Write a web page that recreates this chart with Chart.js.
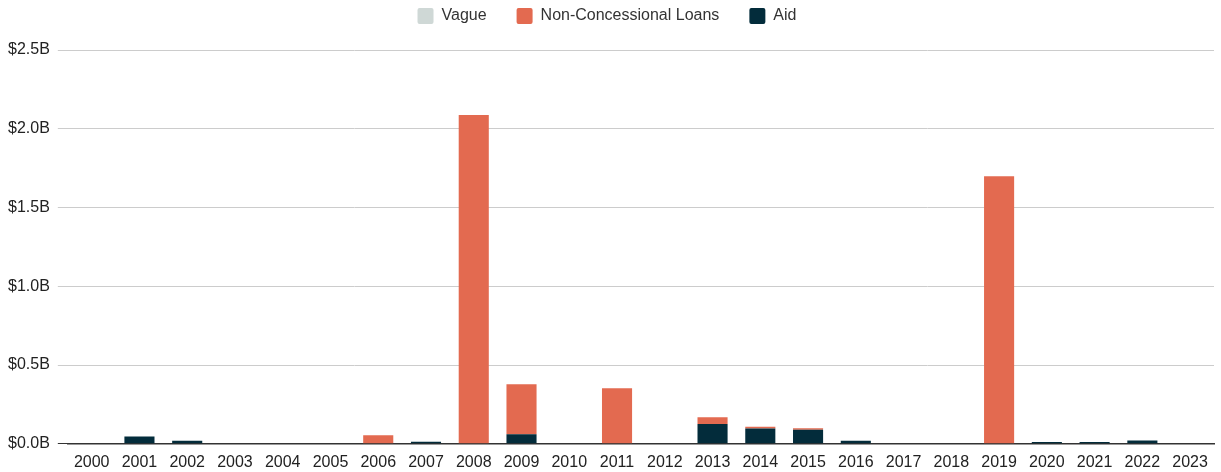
<!DOCTYPE html>
<html>
<head>
<meta charset="utf-8">
<script src="https://cdn.jsdelivr.net/npm/chart.js@4.4.1/dist/chart.umd.min.js"></script>
<style>
  html, body { margin: 0; padding: 0; background: #ffffff; }
  #wrap { width: 1221px; height: 472px; }
</style>
</head>
<body>
<div id="wrap"><canvas id="chart" width="1221" height="472"></canvas></div>
<script>
// Yearly financing, in billions of US dollars
const years = ['2000','2001','2002','2003','2004','2005','2006','2007','2008','2009','2010','2011',
               '2012','2013','2014','2015','2016','2017','2018','2019','2020','2021','2022','2023'];
const vague = [0,0,0,0,0,0,0,0,0,0,0,0,0,0,0,0,0,0,0,0,0,0,0,0];
const nonConcessionalLoans = [0,0,0,0,0,0,0.055,0,2.087,0.318,0,0.353,0,0.044,0.011,0.010,0,0,0,1.699,0,0,0,0];
const aid = [0,0.046,0.019,0,0,0,0,0.013,0,0.060,0,0,0,0.125,0.097,0.089,0.019,0,0,0,0.011,0.011,0.021,0];
const yTicks = [0, 0.5, 1.0, 1.5, 2.0, 2.5];

const FONT = "'Liberation Sans', Arial, sans-serif";

// Adds extra room between the legend row and the plot area
const legendGap = {
  id: 'legendGap',
  beforeUpdate(chart) {
    const lg = chart.legend;
    if (lg && !lg._gapPatched) {
      const fit = lg.fit;
      lg.fit = function () { fit.call(this); this.height += 16; };
      lg._gapPatched = true;
    }
  }
};

new Chart(document.getElementById('chart'), {
  type: 'bar',
  data: {
    labels: years,
    datasets: [
      { label: 'Aid', data: aid, backgroundColor: '#032c3b' },
      { label: 'Non-Concessional Loans', data: nonConcessionalLoans, backgroundColor: '#e36a50' },
      { label: 'Vague', data: vague, backgroundColor: '#cfd8d6' }
    ]
  },
  plugins: [legendGap],
  options: {
    responsive: false,
    animation: false,
    layout: { padding: { left: 0, right: 7, top: -22, bottom: -9 } },
    datasets: { bar: { categoryPercentage: 1.0, barPercentage: 0.63 } },
    plugins: {
      legend: {
        position: 'top',
        reverse: true,
        labels: {
          font: { family: FONT, size: 16 },
          color: '#333333',
          boxWidth: 16,
          boxHeight: 16,
          padding: 30,
          useBorderRadius: true,
          borderRadius: 2
        }
      },
      tooltip: { enabled: false }
    },
    scales: {
      x: {
        stacked: true,
        grid: { display: false, drawTicks: false },
        border: { display: true, color: '#333333', width: 1.5 },
        ticks: { font: { family: FONT, size: 16 }, color: '#222222', padding: 9, maxRotation: 0, autoSkip: false }
      },
      y: {
        stacked: true,
        min: 0,
        max: 2.5,
        afterBuildTicks: (axis) => { axis.ticks = yTicks.map(v => ({ value: v })); },
        grid: {
          color: (ctx) => (ctx.tick && ctx.tick.value === 0 ? '#333333' : '#cccccc'),
          tickLength: 10,
          lineWidth: 1
        },
        border: { display: false },
        ticks: {
          font: { family: FONT, size: 16 },
          color: '#222222',
          padding: 8,
          callback: (v) => '$' + Number(v).toFixed(1) + 'B'
        }
      }
    }
  }
});
</script>
</body>
</html>
